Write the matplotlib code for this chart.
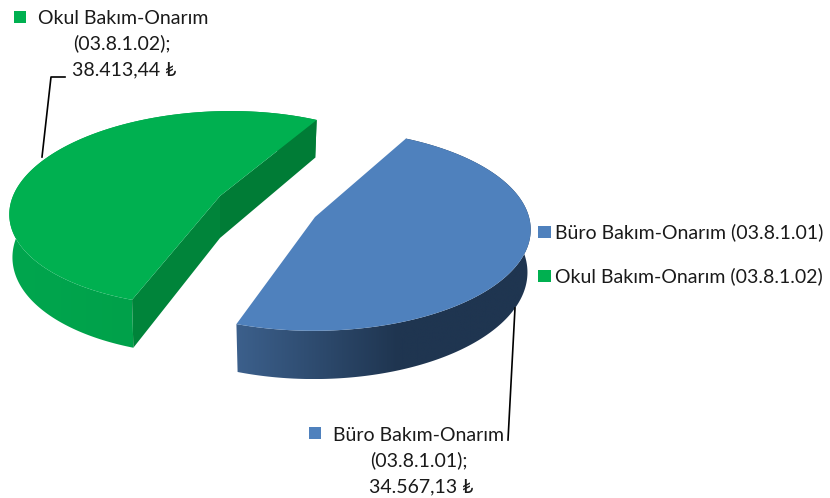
import numpy as np
import matplotlib
matplotlib.use('Agg')
import matplotlib.pyplot as plt
from matplotlib.colors import LinearSegmentedColormap
from matplotlib.patches import Polygon, Rectangle

plt.rcParams['font.family'] = ['Lato', 'DejaVu Sans']

names = ['Büro Bakım-Onarım', 'Okul Bakım-Onarım']
codes = ['03.8.1.01', '03.8.1.02']
values = [34567.13, 38413.44]
top_colors = ['#4f81bd', '#00b050']
text_color = '#1a1a1a'

# pie geometry in pixels, angles clockwise from north
first_angle = 28
depth = 42
squeeze = 0.985
persp = 0.13
apex = [(315, 217), (220, 196)]
radius_x = [214, 207]
radius_y = [99, 96]
shear = [1, 12]


def fmt_money(v):
    s = f'{v:,.2f}'.replace(',', 'X').replace('.', ',').replace('X', '.')
    return s + ' ₺'


def project(i, theta):
    t = np.radians(theta)
    u, v = np.sin(t), np.cos(t)
    w = 1 + persp * v
    x = (radius_x[i] * u + shear[i] * v) / w
    y = -radius_y[i] * v / w
    return x, y, depth / w


def top_edge(i, thetas):
    x, y, d = project(i, thetas)
    return np.column_stack([apex[i][0] + x, apex[i][1] + y])


def bottom_edge(i, thetas):
    x, y, d = project(i, thetas)
    return np.column_stack([apex[i][0] + x * squeeze, apex[i][1] + y + d])


def gradient_fill(ax, poly, colors, stops):
    xmin, ymin = poly.min(axis=0)
    xmax, ymax = poly.max(axis=0)
    cmap = LinearSegmentedColormap.from_list('g', list(zip(stops, colors)))
    im = ax.imshow(np.linspace(0, 1, 256).reshape(1, -1), cmap=cmap,
                   extent=(xmin, xmax, ymax, ymin), aspect='auto', zorder=2)
    patch = Polygon(poly, closed=True, transform=ax.transData)
    im.set_clip_path(patch)


fig = plt.figure(figsize=(8.3, 4.98), dpi=100)
ax = fig.add_axes([0, 0, 1, 1])

spans = np.array(values) / sum(values) * 360
starts = [first_angle, first_angle + spans[0]]

wall_colors = [['#3c608c', '#1f3550', '#1f3550'], ['#00a64e', '#00a049', '#00873c']]
wall_stops = [[0, 0.55, 1], [0, 0.5, 1]]
cut_colors = ['#3c608c', '#00843a']
cut_colors2 = ['#3c608c', '#007c36']

for i in range(2):
    thetas = np.linspace(starts[i], starts[i] + spans[i], 200)
    arc_top = top_edge(i, thetas)
    arc_bot = bottom_edge(i, thetas)
    wall = np.vstack([arc_top, arc_bot[::-1]])
    cx, cy = apex[i]
    gradient_fill(ax, wall, wall_colors[i], wall_stops[i])
    # only the green slice shows its cut faces, they sit over the outer wall
    if i == 1:
        corner_a = top_edge(i, np.array([starts[i]]))[0]
        corner_b = top_edge(i, np.array([starts[i] + spans[i]]))[0]
        bot_a = bottom_edge(i, np.array([starts[i]]))[0]
        bot_b = bottom_edge(i, np.array([starts[i] + spans[i]]))[0]
        ax.add_patch(Polygon([(cx, cy), corner_a, bot_a, (cx, cy + depth)],
                             closed=True, fc=cut_colors[i], ec='none', zorder=2.5))
        ax.add_patch(Polygon([(cx, cy), corner_b, bot_b, (cx, cy + depth)],
                             closed=True, fc=cut_colors2[i], ec='none', zorder=2.5))
    ax.add_patch(Polygon(np.vstack([[(cx, cy)], arc_top]), closed=True,
                         fc=top_colors[i], ec='none', zorder=3))

# leader lines
ax.plot([515, 508], [308, 440], color='black', lw=1.2, zorder=4)
ax.plot([42, 51, 65], [157, 77, 77], color='black', lw=1.2, zorder=4)

# data labels
label_key = [(309, 427), (14, 11)]
label_x = [333, 38]
label_cx = [419, 122]
label_y = [435, 18]
for i in range(2):
    ax.add_patch(Rectangle(label_key[i], 12, 12, fc=top_colors[i], ec='none'))
    ax.text(label_x[i], label_y[i], names[i], fontsize=14, color=text_color,
            ha='left', va='center')
    ax.text(label_cx[i], label_y[i] + 25.5, f'({codes[i]});', fontsize=14,
            color=text_color, ha='center', va='center')
    ax.text(label_cx[i] + 2, label_y[i] + 51.5, fmt_money(values[i]), fontsize=14,
            color=text_color, ha='center', va='center')

# legend
legend_y = [232, 276]
for i in range(2):
    ax.add_patch(Rectangle((538, legend_y[i] - 6), 13, 12, fc=top_colors[i], ec='none'))
    ax.text(555, legend_y[i], f'{names[i]} ({codes[i]})', fontsize=14,
            color=text_color, ha='left', va='center')

ax.set_xlim(0, 830)
ax.set_ylim(498, 0)
ax.axis('off')
fig.savefig('out.png', dpi=100)
